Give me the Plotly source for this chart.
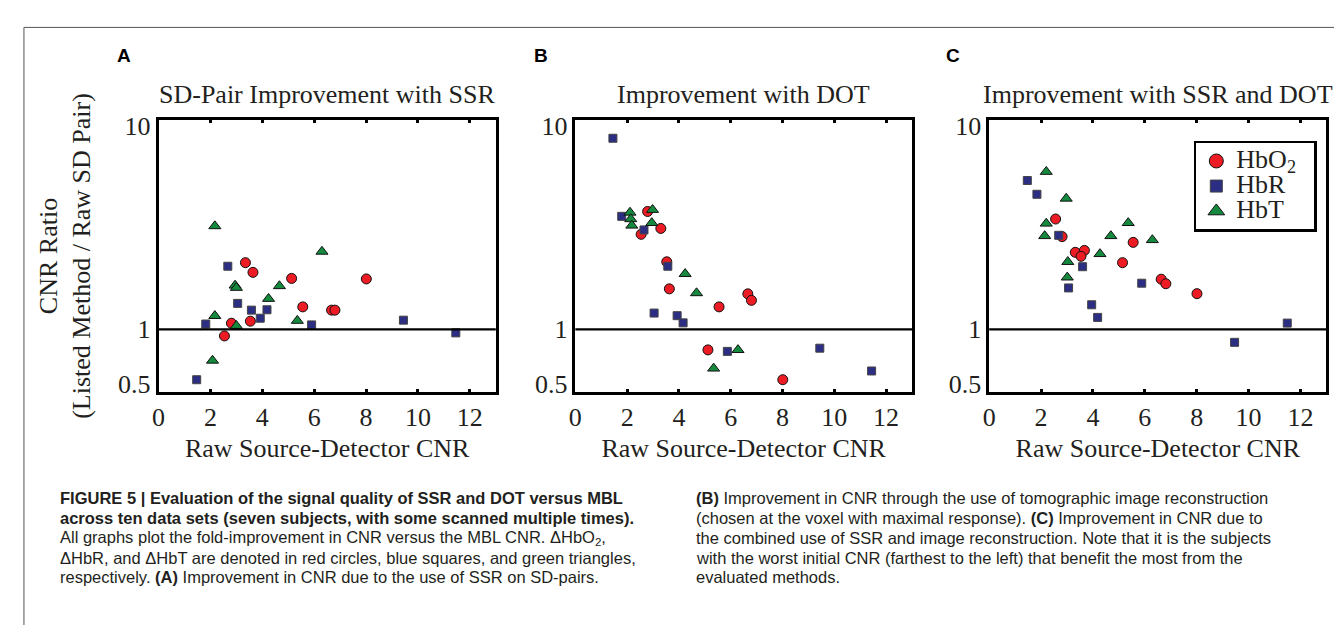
import math
import plotly.graph_objects as go

W, H = 1342, 625

# ---------------- data ----------------
panel_titles = ["SD-Pair Improvement with SSR", "Improvement with DOT", "Improvement with SSR and DOT"]
panel_letters = ["A", "B", "C"]
x_tick_vals = [0, 2, 4, 6, 8, 10, 12]
y_tick_text = ["0.5", "1", "10"]

a_hbo2_x = [3.35, 3.64, 5.13, 8.01, 5.56, 6.67, 6.80, 2.81, 3.54, 2.54]
a_hbo2_y = [2.08, 1.87, 1.75, 1.74, 1.28, 1.235, 1.235, 1.07, 1.094, 0.93]
a_hbr_x = [2.67, 3.05, 3.58, 4.18, 3.92, 1.82, 5.90, 9.44, 11.46, 1.47]
a_hbr_y = [2.00, 1.33, 1.235, 1.24, 1.13, 1.06, 1.05, 1.106, 0.962, 0.575]
a_hbt_x = [2.17, 6.30, 2.95, 3.00, 4.66, 4.24, 2.17, 5.35, 3.00, 2.08]
a_hbt_y = [3.11, 2.35, 1.62, 1.58, 1.61, 1.40, 1.16, 1.10, 1.04, 0.71]

b_hbo2_x = [2.79, 2.54, 3.30, 3.53, 3.63, 5.55, 6.66, 6.80, 5.12, 8.01]
b_hbo2_y = [3.65, 2.84, 3.03, 2.10, 1.56, 1.28, 1.477, 1.375, 0.798, 0.575]
b_hbr_x = [1.45, 1.79, 2.65, 3.57, 3.04, 3.93, 4.16, 5.87, 9.44, 11.44]
b_hbr_y = [8.16, 3.46, 2.98, 2.00, 1.196, 1.162, 1.074, 0.785, 0.813, 0.633]
b_hbt_x = [2.98, 2.11, 2.14, 2.18, 2.95, 4.24, 4.68, 6.28, 5.34]
b_hbt_y = [3.72, 3.61, 3.36, 3.13, 3.22, 1.84, 1.49, 0.798, 0.651]

c_hbo2_x = [2.56, 2.81, 3.32, 3.67, 3.54, 5.55, 5.14, 6.63, 6.81, 8.01]
c_hbo2_y = [3.36, 2.77, 2.33, 2.38, 2.23, 2.60, 2.08, 1.735, 1.65, 1.48]
c_hbr_x = [1.47, 1.84, 2.68, 3.60, 3.06, 5.88, 3.95, 4.18, 11.49, 9.46]
c_hbr_y = [5.13, 4.41, 2.81, 1.99, 1.576, 1.66, 1.31, 1.14, 1.071, 0.867]
c_hbt_x = [2.20, 2.97, 2.20, 2.14, 5.36, 4.69, 6.29, 4.27, 3.03, 3.01]
c_hbt_y = [5.65, 4.21, 3.20, 2.79, 3.22, 2.79, 2.67, 2.29, 2.10, 1.77]

caption_left = [
    "<b>FIGURE 5 | Evaluation of the signal quality of SSR and DOT versus MBL</b>",
    "<b>across ten data sets (seven subjects, with some scanned multiple times).</b>",
    "All graphs plot the fold-improvement in CNR versus the MBL CNR. ΔHbO<sub>2</sub>,",
    "ΔHbR, and ΔHbT are denoted in red circles, blue squares, and green triangles,",
    "respectively. <b>(A)</b> Improvement in CNR due to the use of SSR on SD-pairs.",
]
caption_right = [
    "<b>(B)</b> Improvement in CNR through the use of tomographic image reconstruction",
    "(chosen at the voxel with maximal response). <b>(C)</b> Improvement in CNR due to",
    "the combined use of SSR and image reconstruction. Note that it is the subjects",
    "with the worst initial CNR (farthest to the left) that benefit the most from the",
    "evaluated methods.",
]

# ---------------- styling ----------------
SERIF = "Liberation Serif"
SANS = "Liberation Sans"
TXT = "#231f20"
RED, NAVY, GREEN = "#ed1c24", "#2b2e83", "#15893d"


def px(xp):
    return xp / W


def py(yp):
    return 1 - yp / H


x_domains = [[px(144.3), px(483.3)], [px(563.3), px(901.7)], [px(979.3), px(1318.3)]]
y_domain = [py(385.7), py(106.3)]

series = [
    [(a_hbo2_x, a_hbo2_y), (a_hbr_x, a_hbr_y), (a_hbt_x, a_hbt_y)],
    [(b_hbo2_x, b_hbo2_y), (b_hbr_x, b_hbr_y), (b_hbt_x, b_hbt_y)],
    [(c_hbo2_x, c_hbo2_y), (c_hbr_x, c_hbr_y), (c_hbt_x, c_hbt_y)],
]
marker_styles = [
    dict(symbol="circle", size=10, color=RED, line=dict(color="#111", width=1)),
    dict(symbol="square", size=8, color=NAVY, line=dict(color="#444", width=1)),
    dict(symbol="triangle-up", size=10.5, color=GREEN, line=dict(color="#111", width=1)),
]
legend_names = ["<span style='font-size:26px'>HbO<sub>2</sub>\u00a0\u00a0</span>",
                "<span style='font-size:26px'>HbR</span>",
                "<span style='font-size:26px'>HbT</span>"]

fig = go.Figure()
for i, panel in enumerate(series):
    sfx = "" if i == 0 else str(i + 1)
    for j, (xs, ys) in enumerate(panel):
        fig.add_trace(go.Scatter(x=xs, y=ys, mode="markers", marker=marker_styles[j],
                                 xaxis="x" + sfx, yaxis="y" + sfx, showlegend=False,
                                 cliponaxis=False))

# legend entries (larger symbols, as in the reference legend)
for j in range(3):
    ms = dict(marker_styles[j])
    ms["size"] = ms["size"] + 4
    fig.add_trace(go.Scatter(x=[None], y=[None], mode="markers", marker=ms,
                             name=legend_names[j], xaxis="x3", yaxis="y3", showlegend=True))

layout = dict(
    width=W, height=H, autosize=False,
    margin=dict(l=0, r=0, t=0, b=0, pad=0),
    paper_bgcolor="white", plot_bgcolor="white",
    showlegend=True,
    legend=dict(x=px(1185), y=py(128), xanchor="left", yanchor="top",
                bgcolor="white", bordercolor="black", borderwidth=2.5,
                font=dict(family=SERIF, size=17, color=TXT),
                itemsizing="trace", tracegroupgap=0),
)

yt_pos = [0.548, 1, 9.38]
shapes = []
annotations = []
for i in range(3):
    sfx = "" if i == 0 else str(i + 1)
    layout["xaxis" + sfx] = dict(
        domain=x_domains[i], range=[0, 13], anchor="y" + sfx,
        tickmode="array", tickvals=x_tick_vals, ticktext=[str(v) for v in x_tick_vals],
        ticks="inside", ticklen=4, tickwidth=2.5, tickcolor="black",
        showline=True, linewidth=2.5, linecolor="black", mirror="ticks",
        showgrid=False, zeroline=False,
        tickfont=dict(family=SERIF, size=26, color=TXT),
        title=dict(text="Raw Source-Detector CNR", font=dict(family=SERIF, size=26, color=TXT),
                   standoff=8),
    )
    layout["yaxis" + sfx] = dict(
        domain=y_domain, type="log", range=[math.log10(0.5), 1], anchor="x" + sfx,
        tickmode="array", tickvals=yt_pos, ticktext=y_tick_text,
        ticks="", showline=True, linewidth=2.5, linecolor="black", mirror=True,
        showgrid=False, zeroline=False,
        tickfont=dict(family=SERIF, size=26, color=TXT),
    )
    shapes.append(dict(type="line", xref="x" + sfx + " domain", x0=0, x1=1,
                       yref="y" + sfx, y0=1, y1=1, line=dict(color="black", width=2.2)))
    cx = (x_domains[i][0] + x_domains[i][1]) / 2
    annotations.append(dict(text=panel_titles[i], x=cx, y=py(80), xref="paper", yref="paper",
                            xanchor="center", yanchor="middle", showarrow=False,
                            font=dict(family=SERIF, size=26, color=TXT)))
    annotations.append(dict(text="<b>" + panel_letters[i] + "</b>", x=px([110, 529, 943][i]),
                            y=py(40), xref="paper", yref="paper", xanchor="center",
                            yanchor="middle", showarrow=False,
                            font=dict(family=SANS, size=19, color="black")))

annotations.append(dict(text="CNR Ratio<br>(Listed Method / Raw SD Pair)", x=px(50), y=py(246),
                        xref="paper", yref="paper", xanchor="center", yanchor="middle",
                        textangle=-90, showarrow=False,
                        font=dict(family=SERIF, size=26, color=TXT)))

cap_y = [494, 514, 535, 555, 575]
for k, t in enumerate(caption_left):
    annotations.append(dict(text=t, x=px(43), y=py(cap_y[k]), xref="paper", yref="paper",
                            xanchor="left", yanchor="middle", showarrow=False,
                            font=dict(family=SANS, size=16.5, color=TXT)))
for k, t in enumerate(caption_right):
    annotations.append(dict(text=t, x=px(683), y=py(cap_y[k]), xref="paper", yref="paper",
                            xanchor="left", yanchor="middle", showarrow=False,
                            font=dict(family=SANS, size=16.5, color=TXT)))

# thin frame around the figure
shapes.append(dict(type="line", xref="paper", yref="paper", x0=px(9), x1=1, y0=py(11.7), y1=py(11.7),
                   line=dict(color="#555", width=1)))
shapes.append(dict(type="line", xref="paper", yref="paper", x0=px(9), x1=px(9), y0=py(11.7), y1=0,
                   line=dict(color="#555", width=1)))

layout["shapes"] = shapes
layout["annotations"] = annotations
fig.update_layout(**layout)
fig.write_html("out.html")
